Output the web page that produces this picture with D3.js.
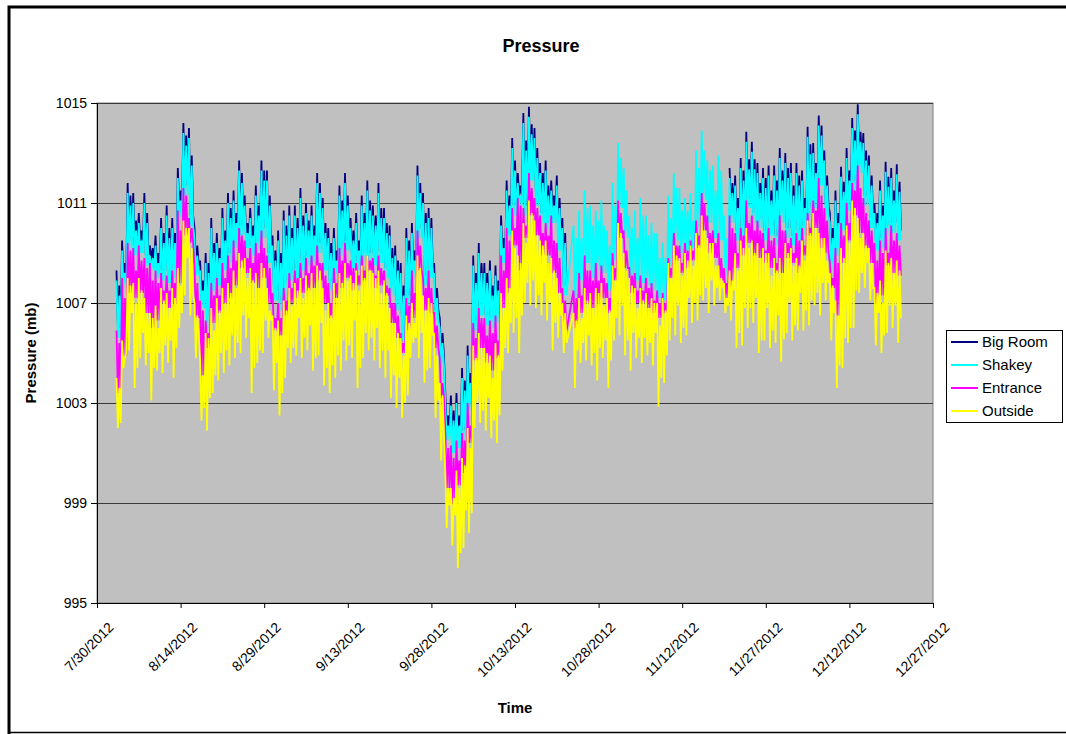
<!DOCTYPE html>
<html><head><meta charset="utf-8">
<script src="https://cdn.jsdelivr.net/npm/d3@7"></script>
<style>body{margin:0;background:#fff}svg{display:block}text{font-family:Arial,"Liberation Sans",sans-serif;fill:#000}</style>
</head><body><svg id="chart" width="1066" height="734"></svg>
<script>
// ---------- DATA ----------
const chartTitle = "Pressure";
const xTitle = "Time";
const yTitle = "Pressure (mb)";
const seriesNames = ["Big Room", "Shakey", "Entrance", "Outside"];
const seriesColors = ["#000080", "#00FFFF", "#FF00FF", "#FFFF00"];
const xTickLabels = ["7/30/2012","8/14/2012","8/29/2012","9/13/2012","9/28/2012","10/13/2012","10/28/2012","11/12/2012","11/27/2012","12/12/2012","12/27/2012"];
const yTickValues = [995, 999, 1003, 1007, 1011, 1015];
// readings every 6 h from 8/2/2012 12:00: main high, low, second high, second low (per day)
const firstReading = "2012-08-02T12:00:00Z";
const readingStepHours = 6;

const bigRoomHigh = [
1008.3,1009.5,1011.8,1011.4,1010.6,1011.4,1009.3,1009.7,1010.4,1010.9,
1010.4,1012.4,1014.2,1014.0,1010.0,1008.7,1009.0,1010.4,1009.8,1010.8,
1011.4,1011.5,1012.7,1011.3,1010.8,1011.7,1012.7,1012.3,1009.7,1009.9,
1010.7,1010.9,1010.9,1011.6,1011.0,1010.9,1012.2,1011.2,1010.0,1010.0,
1011.7,1012.2,1010.4,1010.6,1011.3,1011.9,1010.9,1011.8,1010.8,1010.1,
1009.3,1008.6,1010.0,1010.2,1012.5,1011.4,1010.8,1008.6,1006.4,1003.4,
1003.3,1003.4,1004.4,1005.3,1008.9,1009.4,1008.6,1008.7,1008.5,1010.5,
1011.9,1013.6,1012.2,1014.6,1014.85,1014.0,1012.6,1012.7,1011.9,1012.1,
1010.4,null,null,null,null,null,null,null,null,null,
null,null,null,null,null,null,null,null,null,null,
null,null,null,null,null,null,null,null,null,null,
1012.4,1012.1,1012.8,1013.85,1013.45,1012.6,1012.4,1012.5,1012.5,1013.2,
1013.0,1012.6,1012.6,1012.3,1014.05,1013.4,1014.5,1013.1,1010.6,1011.5,
1012.45,1013.2,1014.4,1014.95,1013.8,1012.9,1011.0,1011.9,1012.65,1012.4,1012.55];
const bigRoomHigh2 = [
1007.7,1008.6,1011.3,1010.3,1009.9,1010.6,1009.2,1009.0,1009.8,1010.0,
1009.8,1011.5,1013.7,1012.9,1009.3,1007.9,1008.6,1009.4,1009.2,1009.9,
1010.8,1010.6,1012.2,1010.2,1010.1,1010.9,1012.3,1011.3,1009.1,1009.0,
1010.1,1010.0,1010.4,1010.5,1010.3,1010.1,1011.8,1010.2,1009.4,1009.1,
1011.1,1011.3,1009.9,1009.5,1010.6,1011.1,1010.5,1010.8,1010.2,1009.2,
1008.7,1007.7,1009.5,1009.1,1011.8,1010.6,1010.4,1007.6,1005.8,1002.5,
1002.7,1002.5,1003.9,1004.2,1008.2,1008.6,1008.2,1007.7,1007.9,1009.6,
1011.3,1012.7,1011.7,1013.5,1014.15,1013.2,1012.2,1011.7,1011.3,1011.2,
1009.8,null,null,null,null,null,null,null,null,null,
null,null,null,null,null,null,null,null,null,null,
null,null,null,null,null,null,null,null,null,null,
1011.8,1011.2,1012.3,1012.75,1012.75,1011.8,1012.0,1011.5,1011.9,1012.3,
1012.4,1011.7,1012.1,1011.2,1013.35,1012.6,1014.1,1012.1,1010.0,1010.6,
1011.85,1012.3,1013.9,1013.85,1013.1,1012.1,1010.6,1010.9,1012.05,1011.5,1011.85];
const bigRoomLow = [
1006.0,1008.1,1009.5,1009.3,1009.4,1008.9,1008.7,1008.4,1008.3,1008.2,
1008.4,1010.8,1011.7,1010.5,1008.5,1007.2,1006.4,1007.9,1008.1,1008.7,
1009.0,1009.6,1010.1,1009.6,1009.3,1009.5,1010.0,1009.0,1007.5,1007.1,
1007.7,1008.3,1008.4,1008.7,1008.9,1009.0,1009.4,1008.7,1007.9,1008.5,
1009.3,1009.5,1008.8,1008.7,1009.0,1009.0,1008.9,1009.0,1008.4,1007.7,
1007.1,1005.9,1007.3,1008.4,1010.0,1008.1,1008.4,1006.7,1004.9,1001.9,
1001.4,1001.6,1001.9,1003.1,1006.3,1006.9,1006.5,1006.4,1006.6,1009.0,
1010.1,1010.9,1011.3,1010.9,1012.3,1011.3,1010.6,1010.3,1010.6,1009.5,
1007.7,null,null,null,null,null,null,null,null,null,
null,null,null,null,null,null,null,null,null,null,
null,null,null,null,null,null,null,null,null,null,
1010.6,1009.9,1010.1,1011.2,1010.6,1010.4,1009.9,1010.1,1009.7,1010.6,
1010.0,1009.7,1009.9,1010.1,1010.7,1011.2,1012.1,1010.9,1008.7,1009.3,
1010.3,1011.1,1011.9,1012.6,1011.3,1010.4,1009.5,1009.6,1010.1,1010.2,1009.9];

const shakeyHigh = [
1007.9,1009.1,1011.4,1011.0,1010.2,1011.0,1008.9,1009.3,1010.0,1010.5,
1010.0,1012.0,1013.8,1013.6,1009.6,1008.3,1008.6,1010.0,1009.4,1010.4,
1011.0,1011.1,1012.3,1010.9,1010.4,1011.3,1012.3,1011.9,1009.3,1009.5,
1010.3,1010.5,1010.5,1011.2,1010.6,1010.5,1011.8,1010.8,1009.6,1009.6,
1011.3,1011.8,1010.0,1010.2,1010.9,1011.5,1010.5,1011.4,1010.4,1009.7,
1008.9,1008.2,1009.6,1009.8,1012.1,1011.0,1010.4,1008.2,1006.0,1003.0,
1002.9,1003.0,1004.0,1004.9,1008.5,1009.0,1008.2,1008.3,1008.1,1010.1,
1011.5,1013.2,1011.8,1014.2,1014.45,1013.6,1012.2,1012.3,1011.5,1011.7,
1010.0,null,1010.1,1010.7,1011.5,1010.9,1010.7,1011.1,1009.9,1011.8,
1013.4,1012.4,1010.5,1010.7,1011.2,1010.5,1010.2,1009.8,1009.4,1011.3,
1012.2,1011.6,1011.2,1011.4,1013.1,1013.9,1012.7,1012.5,1012.9,1010.5,
1012.0,1011.7,1012.4,1013.45,1013.05,1012.2,1012.0,1012.1,1012.1,1012.8,
1012.6,1012.2,1012.2,1011.9,1013.65,1013.0,1014.1,1012.7,1010.2,1011.1,
1012.05,1012.8,1014.0,1014.55,1013.4,1012.5,1010.6,1011.5,1012.25,1012.0,1012.15];
const shakeyHigh2 = [
1007.3,1008.2,1010.9,1009.9,1009.5,1010.2,1008.8,1008.6,1009.4,1009.6,
1009.4,1011.1,1013.3,1012.5,1008.9,1007.5,1008.2,1009.0,1008.8,1009.5,
1010.4,1010.2,1011.8,1009.8,1009.7,1010.5,1011.9,1010.9,1008.7,1008.6,
1009.7,1009.6,1010.0,1010.1,1009.9,1009.7,1011.4,1009.8,1009.0,1008.7,
1010.7,1010.9,1009.5,1009.1,1010.2,1010.7,1010.1,1010.4,1009.8,1008.8,
1008.3,1007.3,1009.1,1008.7,1011.4,1010.2,1010.0,1007.2,1005.4,1002.1,
1002.3,1002.1,1003.5,1003.8,1007.8,1008.2,1007.8,1007.3,1007.5,1009.2,
1010.9,1012.3,1011.3,1013.1,1013.75,1012.8,1011.8,1011.3,1010.9,1010.8,
1009.4,null,1009.6,1009.6,1010.8,1010.1,1010.3,1010.1,1009.3,1010.9,
1012.8,1011.5,1010.0,1009.6,1010.5,1009.7,1009.8,1008.8,1008.8,1010.4,
1011.6,1010.7,1010.7,1010.3,1012.4,1013.1,1012.3,1011.5,1012.3,1009.6,
1011.4,1010.8,1011.9,1012.35,1012.35,1011.4,1011.6,1011.1,1011.5,1011.9,
1012.0,1011.3,1011.7,1010.8,1012.95,1012.2,1013.7,1011.7,1009.6,1010.2,
1011.45,1011.9,1013.5,1013.45,1012.7,1011.7,1010.2,1010.5,1011.65,1011.1,1011.45];
const shakeyLow = [
1005.6,1007.7,1009.1,1008.9,1009.0,1008.5,1008.3,1008.0,1007.9,1007.8,
1008.0,1010.4,1011.3,1010.1,1008.1,1006.8,1006.0,1007.5,1007.7,1008.3,
1008.6,1009.2,1009.7,1009.2,1008.9,1009.1,1009.6,1008.6,1007.1,1006.7,
1007.3,1007.9,1008.0,1008.3,1008.5,1008.6,1009.0,1008.3,1007.5,1008.1,
1008.9,1009.1,1008.4,1008.3,1008.6,1008.6,1008.5,1008.6,1008.0,1007.3,
1006.7,1005.5,1006.9,1008.0,1009.6,1007.7,1008.0,1006.3,1004.5,1001.5,
1001.0,1001.2,1001.5,1002.7,1005.9,1006.5,1006.1,1006.0,1006.2,1008.6,
1009.7,1010.5,1010.9,1010.5,1011.9,1010.9,1010.2,1009.9,1010.2,1009.1,
1007.3,null,1007.2,1007.9,1008.6,1008.0,1008.3,1008.2,1007.5,1008.7,
1010.8,1009.6,1008.1,1007.9,1007.8,1007.7,1007.5,1007.2,1007.1,1008.5,
1009.5,1009.0,1009.1,1009.2,1010.0,1011.1,1010.2,1009.6,1009.5,1008.1,
1010.2,1009.5,1009.7,1010.8,1010.2,1010.0,1009.5,1009.7,1009.3,1010.2,
1009.6,1009.3,1009.5,1009.7,1010.3,1010.8,1011.7,1010.5,1008.3,1008.9,
1009.9,1010.7,1011.5,1012.2,1010.9,1010.0,1009.1,1009.2,1009.7,1009.8,1009.5];

const entranceHigh = [
1005.9,1008.0,1009.4,1009.2,1009.3,1008.8,1008.6,1008.3,1008.2,1008.1,
1008.3,1010.7,1011.6,1010.4,1008.4,1007.1,1006.3,1007.8,1008.0,1008.6,
1008.9,1009.5,1010.0,1009.5,1009.2,1009.4,1009.9,1008.9,1007.4,1007.0,
1007.6,1008.2,1008.3,1008.6,1008.8,1008.9,1009.3,1008.6,1007.8,1008.4,
1009.2,1009.4,1008.7,1008.6,1008.9,1008.9,1008.8,1008.9,1008.3,1007.6,
1007.0,1005.8,1007.2,1008.3,1009.9,1008.0,1008.3,1006.6,1004.8,1001.8,
1001.3,1001.5,1001.8,1003.0,1006.2,1006.8,1006.4,1006.3,1006.5,1008.9,
1010.0,1010.8,1011.2,1010.8,1012.2,1011.2,1010.5,1010.2,1010.5,1009.4,
1007.6,null,1007.5,1008.2,1008.9,1008.3,1008.6,1008.5,1007.8,1009.0,
1011.1,1009.9,1008.4,1008.2,1008.1,1008.0,1007.8,1007.5,1007.4,1008.8,
1009.8,1009.3,1009.4,1009.5,1010.3,1011.4,1010.5,1009.9,1009.8,1008.4,
1010.5,1009.8,1010.0,1011.1,1010.5,1010.3,1009.8,1010.0,1009.6,1010.5,
1009.9,1009.6,1009.8,1010.0,1010.6,1011.1,1012.0,1010.8,1008.6,1009.2,
1010.2,1011.0,1011.8,1012.5,1011.2,1010.3,1009.4,1009.5,1010.0,1010.1,1009.8];
const entranceHigh2 = [
1005.4,1007.2,1009.1,1008.3,1008.7,1008.4,1007.9,1007.8,1007.5,1007.5,
1007.8,1009.9,1011.3,1010.0,1007.8,1006.7,1005.8,1007.3,1007.3,1008.0,
1008.4,1008.7,1009.7,1008.8,1008.6,1009.0,1009.2,1008.4,1006.4,1006.4,
1007.1,1007.6,1008.0,1008.0,1008.2,1008.5,1008.6,1008.1,1007.0,1007.8,
1008.7,1008.6,1008.4,1008.1,1008.3,1008.7,1008.1,1008.4,1007.7,1007.0,
1006.5,1005.4,1006.9,1007.4,1009.3,1007.6,1007.6,1006.1,1003.8,1001.2,
1000.8,1000.7,1001.5,1002.1,1005.6,1006.4,1005.7,1005.8,1005.5,1008.3,
1009.5,1010.0,1010.9,1010.1,1011.6,1010.8,1009.8,1009.7,1009.5,1008.8,
1007.1,null,1007.2,1007.3,1008.3,1007.9,1007.9,1008.0,1007.2,1008.4,
1010.6,1009.1,1008.1,1007.5,1007.5,1007.6,1007.1,1007.0,1007.0,1008.4,
1009.3,1008.6,1009.1,1009.1,1009.7,1011.0,1009.8,1009.4,1008.8,1007.8,
1010.0,1009.0,1009.7,1010.2,1009.9,1009.9,1009.1,1009.5,1008.6,1009.9,
1009.4,1009.0,1009.5,1009.3,1010.0,1010.7,1011.3,1010.3,1008.0,1008.6,
1009.7,1010.2,1011.5,1011.6,1010.6,1009.9,1008.7,1009.0,1009.0,1009.5,1009.3];
const entranceLow = [
1003.4,1004.9,1007.4,1007.2,1007.4,1006.6,1006.0,1006.3,1007.0,1006.8,
1007.0,1007.8,1009.7,1009.4,1006.4,1004.1,1005.2,1006.2,1006.6,1007.0,
1007.2,1007.7,1008.4,1008.2,1007.8,1007.6,1008.0,1007.0,1005.9,1005.7,
1006.5,1007.0,1007.2,1007.4,1007.5,1007.6,1007.9,1007.0,1006.4,1007.2,
1007.6,1008.0,1007.5,1007.7,1007.9,1008.3,1007.6,1007.7,1007.3,1006.2,
1005.6,1005.0,1005.9,1006.4,1008.3,1006.7,1006.6,1005.2,1003.2,999.6,
999.0,999.7,1000.2,1001.4,1004.7,1005.2,1004.6,1004.3,1004.8,1006.8,
1007.4,1009.3,1008.3,1009.6,1010.5,1009.7,1008.9,1008.9,1008.2,1007.4,
1005.9,null,1006.0,1006.6,1007.0,1006.8,1007.0,1007.2,1006.6,1007.9,
1009.6,1008.4,1007.4,1007.0,1007.0,1006.8,1006.6,1006.4,1006.6,1008.0,
1008.7,1008.2,1008.4,1008.7,1009.2,1009.9,1009.0,1008.8,1007.9,1007.2,
1007.7,1008.4,1008.9,1009.4,1008.9,1008.8,1008.6,1008.4,1008.2,1008.2,
1008.8,1008.6,1008.2,1008.9,1009.7,1010.0,1009.2,1009.0,1007.6,1006.5,
1008.6,1009.5,1010.5,1009.8,1009.2,1008.6,1007.0,1007.3,1008.5,1008.2,1008.1];

const outsideHigh = [
1004.0,1005.5,1008.0,1007.8,1008.0,1007.2,1006.6,1006.9,1007.6,1007.4,
1007.6,1008.4,1010.3,1010.0,1007.0,1004.7,1005.8,1006.8,1007.2,1007.6,
1007.8,1008.3,1009.0,1008.8,1008.4,1008.2,1008.6,1007.6,1006.5,1006.3,
1007.1,1007.6,1007.8,1008.0,1008.1,1008.2,1008.5,1007.6,1007.0,1007.8,
1008.2,1008.6,1008.1,1008.3,1008.5,1008.9,1008.2,1008.3,1007.9,1006.8,
1006.2,1005.6,1006.5,1007.0,1008.9,1007.3,1007.2,1005.8,1003.8,1000.2,
999.6,1000.3,1000.8,1002.0,1005.3,1005.8,1005.2,1004.9,1005.4,1007.4,
1008.0,1009.9,1008.9,1010.2,1011.1,1010.3,1009.5,1009.5,1008.8,1008.0,
1007.0,null,1006.6,1007.2,1007.6,1007.4,1007.6,1007.8,1007.2,1008.5,
1010.2,1009.0,1008.0,1007.6,1007.6,1007.4,1007.2,1007.0,1007.2,1008.6,
1009.3,1008.8,1009.0,1009.3,1009.8,1010.5,1009.6,1009.4,1008.5,1007.8,
1008.3,1009.0,1009.5,1010.0,1009.5,1009.4,1009.2,1009.0,1008.8,1008.8,
1009.4,1009.2,1008.8,1009.5,1010.3,1010.6,1009.8,1009.6,1008.2,1007.1,
1009.2,1010.1,1011.1,1010.4,1009.8,1009.2,1007.6,1007.9,1009.1,1008.8,1008.7];
const outsideHigh2 = [
1003.6,1004.8,1007.7,1007.0,1007.5,1006.6,1006.4,1006.0,1007.1,1006.8,
1007.2,1007.7,1010.0,1009.2,1006.5,1004.1,1005.6,1005.9,1006.7,1007.0,
1007.4,1007.6,1008.7,1008.0,1007.9,1007.6,1008.4,1006.7,1006.0,1005.7,
1006.7,1006.9,1007.5,1007.2,1007.6,1007.6,1008.3,1006.7,1006.5,1007.2,
1007.8,1007.9,1007.8,1007.5,1008.0,1008.3,1008.0,1007.4,1007.4,1006.2,
1005.8,1004.9,1006.2,1006.2,1008.4,1006.7,1007.0,1004.9,1003.3,999.6,
999.2,999.6,1000.5,1001.2,1004.8,1005.2,1005.0,1004.0,1004.9,1006.8,
1007.6,1009.2,1008.6,1009.4,1010.6,1009.7,1009.3,1008.6,1008.3,1007.4,
1006.6,null,1006.3,1006.4,1007.1,1006.8,1007.4,1006.9,1006.7,1007.9,
1009.8,1008.3,1007.7,1006.8,1007.1,1006.8,1007.0,1006.1,1006.7,1008.0,
1008.9,1008.1,1008.7,1008.5,1009.3,1009.9,1009.4,1008.5,1008.0,1007.2,
1007.9,1008.3,1009.2,1009.2,1009.0,1008.8,1009.0,1008.1,1008.3,1008.2,
1009.0,1008.5,1008.5,1008.7,1009.8,1010.0,1009.6,1008.7,1007.7,1006.5,
1008.8,1009.4,1010.8,1009.6,1009.3,1008.6,1007.4,1007.0,1008.6,1008.2,1008.3];
const outsideLow = [
1002.0,1004.4,1005.1,1003.6,1004.8,1004.5,1003.1,1004.3,1004.2,1004.6,
1004.0,1006.0,1007.3,1006.5,1004.8,1002.3,1001.9,1003.4,1003.9,1004.2,
1004.5,1004.8,1005.0,1005.6,1003.4,1004.6,1005.0,1005.6,1003.5,1002.5,
1004.0,1004.6,1004.9,1004.8,1005.1,1004.3,1004.9,1003.7,1003.4,1004.0,
1004.3,1004.7,1004.8,1003.6,1004.8,1005.1,1004.7,1004.4,1004.0,1003.2,
1002.8,1002.4,1003.3,1005.4,1004.8,1003.8,1004.4,1002.4,1000.7,998.0,
997.3,996.4,997.2,997.8,1002.0,1002.2,1001.9,1001.6,1001.4,1004.3,
1005.0,1005.8,1005.0,1007.0,1006.9,1006.8,1006.5,1006.3,1005.1,1005.6,
1005.0,null,1003.6,1004.6,1004.7,1004.5,1003.9,1004.8,1003.6,1005.5,
1005.7,1004.9,1004.3,1004.8,1004.6,1004.9,1004.5,1002.85,1003.8,1005.5,
1005.7,1005.4,1005.7,1006.2,1006.3,1007.1,1006.6,1006.9,1007.1,1006.6,
1006.3,1005.2,1005.3,1006.0,1006.2,1005.0,1005.5,1005.2,1005.4,1004.65,
1005.8,1005.5,1005.9,1005.9,1006.1,1006.9,1006.5,1007.1,1005.5,1003.6,
1004.4,1005.4,1006.0,1007.4,1007.6,1007.1,1005.3,1005.0,1005.8,1006.0,1005.4];
const outsideLow2 = [
1002.2,1005.0,1006.6,1004.4,1005.8,1005.0,1004.4,1005.0,1005.3,1005.5,
1005.2,1006.6,1008.8,1007.3,1005.8,1002.8,1003.2,1004.1,1005.0,1005.1,
1005.7,1005.4,1006.5,1006.4,1004.4,1005.1,1006.3,1006.3,1004.6,1003.4,
1005.2,1005.2,1006.4,1005.6,1006.1,1004.8,1006.2,1004.4,1004.5,1004.9,
1005.5,1005.3,1006.3,1004.4,1005.8,1005.6,1006.0,1005.1,1005.1,1004.1,
1004.0,1003.0,1004.8,1005.6,1005.8,1004.3,1005.7,1003.1,1001.8,998.9,
998.5,997.0,998.7,998.6,1003.0,1002.7,1003.2,1002.3,1002.5,1005.2,
1006.2,1006.4,1006.5,1007.8,1007.9,1007.3,1007.8,1007.0,1006.2,1006.5,
1005.4,null,1005.1,1005.4,1005.7,1005.0,1005.2,1005.5,1004.7,1006.4,
1006.9,1005.5,1005.8,1005.6,1005.6,1005.4,1005.8,1004.0,1004.9,1006.4,
1006.9,1006.0,1007.2,1007.0,1007.3,1007.6,1007.9,1007.6,1007.6,1006.9,
1007.5,1005.8,1006.8,1006.8,1007.2,1005.5,1006.8,1005.9,1006.5,1005.55,
1007.0,1006.1,1007.4,1006.7,1007.1,1007.4,1007.8,1007.8,1006.6,1004.5,
1005.6,1006.0,1007.5,1008.2,1008.6,1007.6,1006.6,1005.7,1006.9,1006.9,1006.4];

// ---------- LAYOUT ----------
const W = 1066, H = 734;
const plot = {left: 97, top: 103, right: 933, bottom: 603};

const svg = d3.select("#chart");
svg.append("rect").attr("width", W).attr("height", H).attr("fill", "#fff");
svg.append("path").attr("d", `M9,${H+5} L9,7 L${W+5},7`).attr("fill","none").attr("stroke","#000").attr("stroke-width",3);
svg.append("line").attr("x1",9).attr("x2",W).attr("y1",732.5).attr("y2",732.5).attr("stroke","#000").attr("stroke-width",1.5);

const parseTick = d3.utcParse("%m/%d/%Y");
const tickDates = xTickLabels.map(parseTick);
const x = d3.scaleUtc().domain([tickDates[0], tickDates[tickDates.length-1]]).range([plot.left, plot.right]);
const y = d3.scaleLinear().domain([995, 1015]).range([plot.bottom, plot.top]);

svg.append("rect").attr("x", plot.left).attr("y", plot.top)
  .attr("width", plot.right-plot.left).attr("height", plot.bottom-plot.top)
  .attr("fill", "#C0C0C0").attr("stroke", "#808080").attr("stroke-width", 1);

svg.append("g").selectAll("line").data(yTickValues.filter(v => v > 995)).join("line")
  .attr("x1", plot.left).attr("x2", plot.right)
  .attr("y1", d => Math.round(y(d))+0.5).attr("y2", d => Math.round(y(d))+0.5)
  .attr("stroke", "#3a3a3a").attr("stroke-width", 1.2);

// series: per day -> high, low, second high, second low
const start = new Date(firstReading);
function toPoints(high, low, high2, low2) {
  const vals = high.flatMap((h, i) => [h, low[i], high2[i], low2[i]]);
  return vals.map((v, i) => ({t: new Date(start.getTime() + i*readingStepHours*3600000), v}));
}
const seriesData = [
  toPoints(bigRoomHigh, bigRoomLow, bigRoomHigh2, bigRoomLow),
  toPoints(shakeyHigh, shakeyLow, shakeyHigh2, shakeyLow),
  toPoints(entranceHigh, entranceLow, entranceHigh2, entranceLow),
  toPoints(outsideHigh, outsideLow, outsideHigh2, outsideLow2)
];
svg.append("clipPath").attr("id","clip").append("rect")
  .attr("x", plot.left).attr("y", plot.top).attr("width", plot.right-plot.left).attr("height", plot.bottom-plot.top);
const gLines = svg.append("g").attr("clip-path","url(#clip)");
seriesData.forEach((pts, k) => {
  let line, data;
  if (k === 0) {
    line = d3.line().defined(d => d.v !== null).x(d => x(d.t)).y(d => y(d.v));
    data = pts;
  } else {
    line = d3.line().x(d => x(d.t)).y(d => y(d.v));
    data = pts.filter(d => d.v !== null);
  }
  gLines.append("path").datum(data).attr("d", line)
    .attr("fill","none").attr("stroke", seriesColors[k]).attr("stroke-width", 1.8)
    .attr("stroke-linejoin","miter").attr("stroke-miterlimit", 2);
});

// y axis
const yAxis = d3.axisLeft(y).tickValues(yTickValues).tickSize(6).tickPadding(4).tickFormat(d3.format("d"));
const gy = svg.append("g").attr("transform", `translate(${plot.left},0)`).call(yAxis);
gy.select(".domain").attr("stroke","#000");
gy.selectAll(".tick line").attr("stroke","#000");
gy.selectAll("text").attr("font-size", 14).attr("font-family","Arial, 'Liberation Sans', sans-serif").attr("fill","#000");

// x axis
const xAxis = d3.axisBottom(x).tickValues(tickDates).tickSize(5).tickFormat((d,i) => xTickLabels[i]);
const gx = svg.append("g").attr("transform", `translate(0,${plot.bottom})`).call(xAxis);
gx.select(".domain").attr("stroke","#000");
gx.selectAll(".tick line").attr("stroke","#000");
gx.selectAll("text").attr("font-size", 14).attr("font-family","Arial, 'Liberation Sans', sans-serif").attr("fill","#000")
  .attr("text-anchor","end").attr("dy","0.35em").attr("transform","translate(8,16) rotate(-45)");

// titles
svg.append("text").attr("x", 541).attr("y", 52).attr("text-anchor","middle")
  .attr("font-size", 18).attr("font-weight","bold").text(chartTitle);
svg.append("text").attr("x", 515).attr("y", 713).attr("text-anchor","middle")
  .attr("font-size", 15).attr("font-weight","bold").text(xTitle);
svg.append("text").attr("transform", "translate(36,353) rotate(-90)").attr("text-anchor","middle")
  .attr("font-size", 15).attr("font-weight","bold").text(yTitle);

// legend
const lg = svg.append("g");
lg.append("rect").attr("x", 946.5).attr("y", 330.5).attr("width", 116).attr("height", 92)
  .attr("fill","#fff").attr("stroke","#000").attr("stroke-width",1);
seriesNames.forEach((name, k) => {
  const yy = 342 + k*23;
  lg.append("line").attr("x1", 951).attr("x2", 978).attr("y1", yy).attr("y2", yy)
    .attr("stroke", seriesColors[k]).attr("stroke-width", 2);
  lg.append("text").attr("x", 982).attr("y", yy).attr("dy","0.35em")
    .attr("font-size", 15).text(name);
});
</script></body></html>
